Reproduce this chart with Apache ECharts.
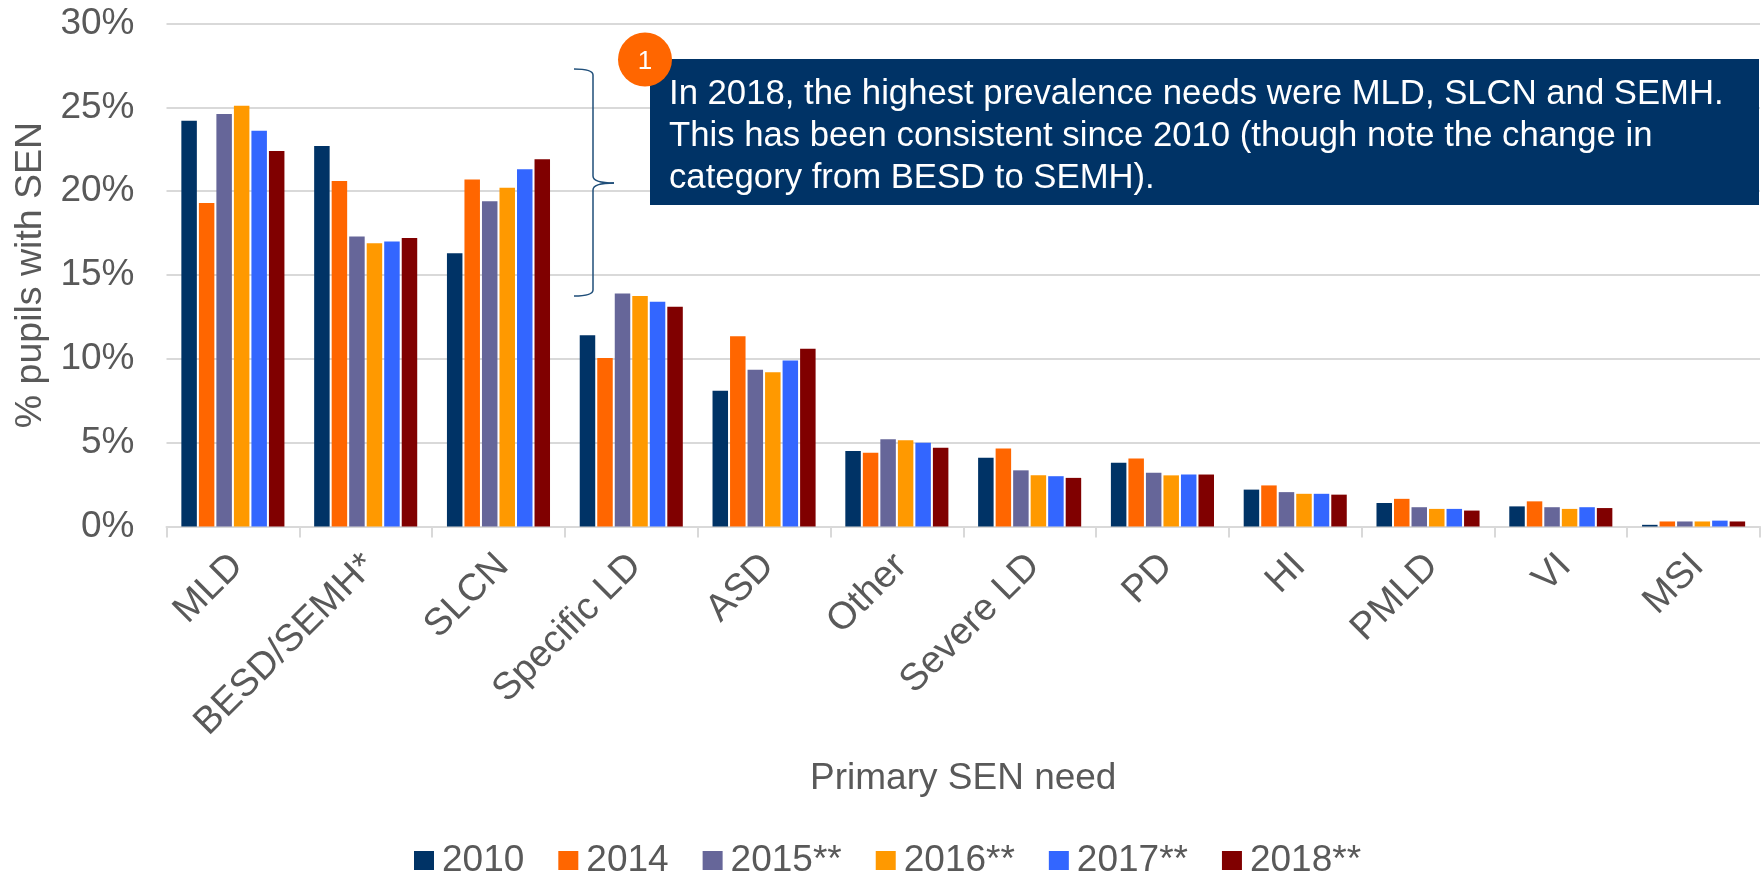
<!DOCTYPE html>
<html>
<head>
<meta charset="utf-8">
<style>html,body{margin:0;padding:0;background:#fff}#c{width:1764px;height:874px}</style>
<script src="https://cdn.jsdelivr.net/npm/echarts@6/dist/echarts.min.js"></script>
</head>
<body>
<div id="c"></div>
<script>
const categories = ['MLD','BESD/SEMH*','SLCN','Specific LD','ASD','Other','Severe LD','PD','HI','PMLD','VI','MSI'];
const seriesNames = ['2010','2014','2015**','2016**','2017**','2018**'];
const colors = ['#003366','#FF6600','#666699','#FF9900','#3366FF','#800000'];
const v2010 = [24.2,22.7,16.3,11.4,8.1,4.5,4.1,3.8,2.2,1.4,1.2,0.1];
const v2014 = [19.3,20.6,20.7,10.05,11.35,4.4,4.65,4.05,2.45,1.65,1.5,0.3];
const v2015 = [24.6,17.3,19.4,13.9,9.35,5.2,3.35,3.2,2.05,1.15,1.15,0.3];
const v2016 = [25.1,16.9,20.2,13.75,9.2,5.15,3.05,3.05,1.95,1.05,1.05,0.3];
const v2017 = [23.6,17.0,21.3,13.4,9.9,5.0,3.0,3.1,1.95,1.05,1.15,0.35];
const v2018 = [22.4,17.2,21.9,13.1,10.6,4.7,2.9,3.1,1.9,0.95,1.1,0.3];
const allValues = [v2010,v2014,v2015,v2016,v2017,v2018];
const calloutText = 'In 2018, the highest prevalence needs were MLD, SLCN and SEMH.\nThis has been consistent since 2010 (though note the change in\ncategory from BESD to SEMH).';

const FONT = '"Liberation Sans", Arial, sans-serif';
const GREY = '#595959';
const BRACE = {fill:'none',stroke:'#1F4E79',lineWidth:1.5};
const chart = echarts.init(document.getElementById('c'), null, {renderer:'canvas'});
chart.setOption({
  animation:false,
  backgroundColor:'#fff',
  grid:{left:166.5,right:4,top:23.5,bottom:347.5,containLabel:false,outerBoundsMode:'none'},
  legend:{
    left:409,top:837,itemWidth:20,itemHeight:19,itemGap:34,icon:'rect',
    data:seriesNames,
    textStyle:{fontFamily:FONT,fontSize:37,color:GREY,padding:[0,0,0,3]}
  },
  xAxis:{
    type:'category',data:categories,
    name:'Primary SEN need',nameLocation:'middle',nameGap:234,
    nameTextStyle:{fontFamily:FONT,fontSize:37,color:GREY},
    axisLine:{lineStyle:{color:'#D9D9D9',width:2}},
    axisTick:{show:true,alignWithLabel:false,length:11,lineStyle:{color:'#D9D9D9',width:2}},
    axisLabel:{rotate:45,interval:0,margin:38,padding:[0,-6,0,0],fontFamily:FONT,fontSize:38,color:GREY}
  },
  yAxis:{
    type:'value',min:0,max:30,interval:5,
    name:'% pupils with SEN',nameLocation:'middle',nameGap:106,
    nameTextStyle:{fontFamily:FONT,fontSize:37.5,color:GREY},
    axisLine:{show:false},axisTick:{show:false},
    axisLabel:{formatter:'{value}%',margin:32,padding:[4,0,0,0],fontFamily:FONT,fontSize:37,color:GREY},
    splitLine:{lineStyle:{color:'#D9D9D9',width:2}}
  },
  series:seriesNames.map((n,i)=>({
    name:n,type:'bar',data:allValues[i],
    barWidth:15.5,barGap:'13%',
    itemStyle:{color:colors[i]}
  })),
  graphic:[
    {type:'bezierCurve',z:50,shape:{x1:574,y1:69,cpx1:584,cpy1:69,cpx2:593,cpy2:70,x2:593,y2:75},style:BRACE},
    {type:'line',z:50,shape:{x1:593,y1:75,x2:593,y2:176},style:BRACE},
    {type:'bezierCurve',z:50,shape:{x1:593,y1:176,cpx1:593,cpy1:181,cpx2:600,cpy2:183,x2:614,y2:183},style:BRACE},
    {type:'bezierCurve',z:50,shape:{x1:614,y1:183,cpx1:600,cpy1:183,cpx2:593,cpy2:185,x2:593,y2:190},style:BRACE},
    {type:'line',z:50,shape:{x1:593,y1:190,x2:593,y2:290},style:BRACE},
    {type:'bezierCurve',z:50,shape:{x1:593,y1:290,cpx1:593,cpy1:295,cpx2:584,cpy2:296,x2:574,y2:296},style:BRACE},
    {type:'rect',z:50,shape:{x:650,y:59,width:1109,height:146},style:{fill:'#003366'}},
    {type:'text',z:51,style:{x:669,y:73,text:calloutText,fill:'#fff',fontFamily:FONT,fontSize:34.7,lineHeight:42}},
    {type:'circle',z:52,shape:{cx:645,cy:59.5,r:27},style:{fill:'#FF6600'}},
    {type:'text',z:53,style:{x:645,y:62,text:'1',fill:'#fff',fontFamily:FONT,fontSize:26,align:'center',verticalAlign:'middle'}}
  ]
});
</script>
</body>
</html>
